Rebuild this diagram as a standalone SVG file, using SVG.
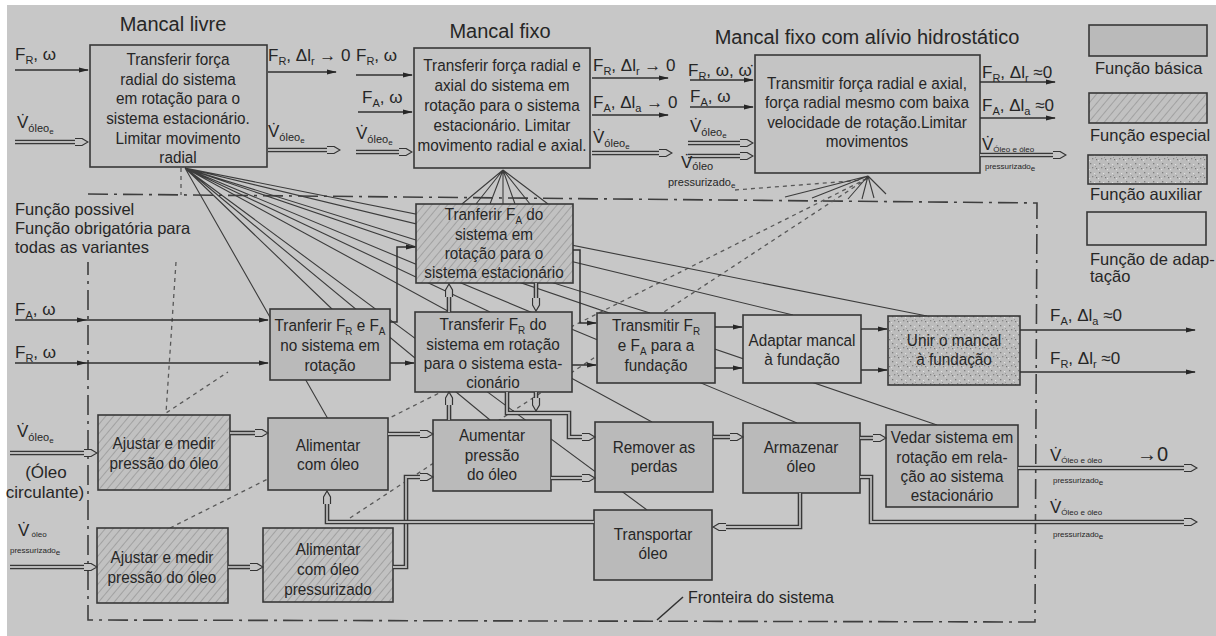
<svg xmlns="http://www.w3.org/2000/svg" width="1216" height="636" viewBox="0 0 1216 636">
<defs>
<style>
.t{font-family:'Liberation Sans Narrow','Liberation Sans',Arial,sans-serif;fill:#262626}
.bx{font-size:17px;text-anchor:middle;transform-box:fill-box;transform-origin:center;transform:scaleX(.9)}
.lb{font-size:17px}
.ttl{font-size:20px}
.lg{font-size:16.5px}
.s{font-size:11px}
.sb{font-size:11px;baseline-shift:-4px}
.ss{font-size:8px}
.box{stroke:#383838;stroke-width:1.6}
.top{fill:#c4c4c4}
.basic{fill:#bababa}
.plain{fill:#c8c8c8}
.spec{fill:url(#hatch)}
.aux{fill:url(#stip)}
.sig{fill:none;stroke:#303030;stroke-width:1.5;marker-end:url(#ah)}
.ln{fill:none;stroke:#303030;stroke-width:1.5}
.po{fill:none;stroke:#383838;stroke-width:4.6}
.pi{fill:none;stroke:#b9b9b9;stroke-width:1.8;marker-end:url(#hh)}
.fan{stroke:#3c3c3c;stroke-width:1.1;fill:none}
.dot{stroke:#585858;stroke-width:1.3;stroke-dasharray:4 4;fill:none}
.bnd{stroke:#3e3e3e;stroke-width:1.6;stroke-dasharray:20 6 3 6;fill:none}
</style>
<pattern id="hatch" width="6" height="6" patternUnits="userSpaceOnUse" patternTransform="rotate(40)">
<rect width="6" height="6" fill="#c1c1c1"/>
<line x1="0" y1="0" x2="0" y2="6" stroke="#8c8c8c" stroke-width="1.2"/>
</pattern>
<pattern id="stip" width="9" height="9" patternUnits="userSpaceOnUse">
<rect width="9" height="9" fill="#bcbcbc"/>
<rect x="1" y="1" width="1.3" height="1.3" fill="#7c7c7c"/>
<rect x="5" y="2" width="1.2" height="1.2" fill="#e0e0e0"/>
<rect x="3" y="5" width="1.3" height="1.3" fill="#888"/>
<rect x="7" y="6" width="1.2" height="1.2" fill="#777"/>
<rect x="0" y="7" width="1.2" height="1.2" fill="#dcdcdc"/>
<rect x="6" y="4" width="1" height="1" fill="#999"/>
</pattern>
<marker id="ah" viewBox="0 0 10 6" refX="9" refY="3" markerWidth="10" markerHeight="6" markerUnits="userSpaceOnUse" orient="auto">
<path d="M0,0.6 L10,3 L0,5.4 Z" fill="#262626"/>
</marker>
<marker id="hh" viewBox="0 0 14 9" refX="7" refY="4.5" markerWidth="14" markerHeight="9" markerUnits="userSpaceOnUse" orient="auto">
<path d="M0,1 L7,1 L13,4.5 L7,8 L0,8" fill="#c4c4c4" stroke="#333" stroke-width="1.2"/>
</marker>
</defs>

<rect width="1216" height="636" fill="#ffffff"/>
<rect x="7" y="5" width="1209" height="631" fill="#c7c7c7"/>

<!-- system boundary -->
<path class="bnd" d="M88,194 L1037,203 L1035,622 L88,620 L88,262"/>

<!-- possible-function links -->
<g id="possible-links">
<path class="dot" d="M181,168 V195"/>
<path class="dot" d="M176,262 L166,413 L228,372"/>
<path class="dot" d="M170,528 L868,178"/>
<path class="dot" d="M350,518 L868,178"/>
<path class="dot" d="M735,190 L864,180"/>
</g>

<!-- function links from the three variants -->
<g id="fan-links">
<path class="fan" d="M185,168 L328,419 M185,168 L333,310 M185,168 L490,420 M185,168 L490,312 M185,168 L647,510 M185,168 L652,422 M185,168 L650,313 M185,168 L797,423 M185,168 L937,425 M185,168 L793,315 M185,168 L927,316"/>
<path class="fan" d="M503,170 L462,204 M503,170 L476,204 M503,170 L490,204 M503,170 L503,204 M503,170 L515,204 M503,170 L530,204 M503,170 L548,204"/>
<path class="fan" d="M868,176 L785,197 M868,176 L812,198 M868,176 L848,199 M868,176 L862,199 M868,176 L874,198 M868,176 L886,194"/>
</g>

<!-- variant titles -->
<text class="t ttl" x="173" y="31" text-anchor="middle">Mancal livre</text>
<text class="t ttl" x="500" y="38" text-anchor="middle">Mancal fixo</text>
<text class="t ttl" x="867" y="44" text-anchor="middle">Mancal fixo com alívio hidrostático</text>

<!-- top variant nodes -->
<g id="n-livre">
<rect class="box top" x="90" y="45" width="177" height="122"/>
<text class="t bx"><tspan x="178" y="65">Transferir força</tspan><tspan x="178" y="85">radial do sistema</tspan><tspan x="178" y="104">em rotação para o</tspan><tspan x="178" y="124">sistema estacionário.</tspan><tspan x="178" y="144">Limitar movimento</tspan><tspan x="178" y="163">radial</tspan></text>
</g>
<g id="n-fixo">
<rect class="box top" x="414" y="48" width="176" height="120"/>
<text class="t bx"><tspan x="502" y="71">Transferir força radial e</tspan><tspan x="502" y="91">axial do sistema em</tspan><tspan x="502" y="111">rotação para o sistema</tspan><tspan x="502" y="131">estacionário. Limitar</tspan><tspan x="502" y="151">movimento radial e axial.</tspan></text>
</g>
<g id="n-hidro">
<rect class="box top" x="755" y="55" width="225" height="118"/>
<text class="t bx"><tspan x="867" y="89">Transmitir força radial e axial,</tspan><tspan x="867" y="108">força radial mesmo com baixa</tspan><tspan x="867" y="128">velocidade de rotação.Limitar</tspan><tspan x="867" y="147">movimentos</tspan></text>
</g>

<!-- legend -->
<g id="legend">
<rect class="box basic" x="1089" y="25" width="118" height="31"/>
<text class="t lg" x="1095" y="74">Função básica</text>
<rect class="box spec" x="1089" y="93" width="118" height="30"/>
<text class="t lg" x="1090" y="141">Função especial</text>
<rect class="box aux" x="1088" y="155" width="119" height="29"/>
<text class="t lg" x="1090" y="200">Função auxiliar</text>
<rect class="box plain" x="1087" y="212" width="119" height="33"/>
<text class="t lg" x="1090" y="265">Função de adap-</text>
<text class="t lg" x="1090" y="282">tação</text>
</g>

<text class="t lg"><tspan x="15" y="215">Função possivel</tspan><tspan x="15" y="234">Função obrigatória para</tspan><tspan x="15" y="253">todas as variantes</tspan></text>

<!-- sub-function nodes -->
<g id="n-fa">
<rect class="box spec" x="416" y="204" width="157" height="79"/>
<text class="t bx"><tspan x="494" y="220">Tranferir F<tspan class="sb">A</tspan> do</tspan><tspan x="494" y="240">sistema em</tspan><tspan x="494" y="259">rotação para o</tspan><tspan x="494" y="278">sistema estacionário</tspan></text>
</g>
<g id="n-frfa">
<rect class="box basic" x="270" y="309" width="120" height="71"/>
<text class="t bx"><tspan x="330" y="331">Tranferir F<tspan class="sb">R</tspan> e F<tspan class="sb">A</tspan></tspan><tspan x="330" y="351">no sistema em</tspan><tspan x="330" y="371">rotação</tspan></text>
</g>
<g id="n-fr">
<rect class="box basic" x="415" y="312" width="157" height="80"/>
<text class="t bx"><tspan x="493" y="330">Transferir F<tspan class="sb">R</tspan> do</tspan><tspan x="493" y="350">sistema em rotação</tspan><tspan x="493" y="369">para o sistema esta-</tspan><tspan x="493" y="388">cionário</tspan></text>
</g>
<g id="n-transmitir">
<rect class="box basic" x="597" y="313" width="118" height="70"/>
<text class="t bx"><tspan x="656" y="331">Transmitir F<tspan class="sb">R</tspan></tspan><tspan x="656" y="351">e F<tspan class="sb">A</tspan> para a</tspan><tspan x="656" y="371">fundação</tspan></text>
</g>
<g id="n-adaptar">
<rect class="box plain" x="743" y="315" width="118" height="68"/>
<text class="t bx"><tspan x="802" y="346">Adaptar mancal</tspan><tspan x="802" y="365">à fundação</tspan></text>
</g>
<g id="n-unir">
<rect class="box aux" x="888" y="316" width="132" height="69"/>
<text class="t bx"><tspan x="954" y="346">Unir o mancal</tspan><tspan x="954" y="365">à fundação</tspan></text>
</g>
<g id="n-ajustar1">
<rect class="box spec" x="98" y="415" width="132" height="75"/>
<text class="t bx"><tspan x="164" y="449">Ajustar e medir</tspan><tspan x="164" y="469">pressão do óleo</tspan></text>
</g>
<g id="n-ajustar2">
<rect class="box spec" x="97" y="528" width="131" height="75"/>
<text class="t bx"><tspan x="162" y="563">Ajustar e medir</tspan><tspan x="162" y="583">pressão do óleo</tspan></text>
</g>
<g id="n-alimentar">
<rect class="box basic" x="268" y="418" width="120" height="72"/>
<text class="t bx"><tspan x="328" y="451">Alimentar</tspan><tspan x="328" y="470">com óleo</tspan></text>
</g>
<g id="n-alimentar-p">
<rect class="box spec" x="263" y="528" width="130" height="74"/>
<text class="t bx"><tspan x="328" y="555">Alimentar</tspan><tspan x="328" y="575">com óleo</tspan><tspan x="328" y="595">pressurizado</tspan></text>
</g>
<g id="n-aumentar">
<rect class="box basic" x="433" y="420" width="118" height="71"/>
<text class="t bx"><tspan x="492" y="441">Aumentar</tspan><tspan x="492" y="461">pressão</tspan><tspan x="492" y="480">do óleo</tspan></text>
</g>
<g id="n-remover">
<rect class="box basic" x="595" y="422" width="118" height="70"/>
<text class="t bx"><tspan x="654" y="453">Remover as</tspan><tspan x="654" y="472">perdas</tspan></text>
</g>
<g id="n-armazenar">
<rect class="box basic" x="743" y="423" width="117" height="70"/>
<text class="t bx"><tspan x="801" y="453">Armazenar</tspan><tspan x="801" y="472">óleo</tspan></text>
</g>
<g id="n-transportar">
<rect class="box basic" x="594" y="510" width="118" height="70"/>
<text class="t bx"><tspan x="653" y="540">Transportar</tspan><tspan x="653" y="559">óleo</tspan></text>
</g>
<g id="n-vedar">
<rect class="box basic" x="886" y="425" width="132" height="82"/>
<text class="t bx"><tspan x="952" y="443">Vedar sistema em</tspan><tspan x="952" y="463">rotação em rela-</tspan><tspan x="952" y="482">ção ao sistema</tspan><tspan x="952" y="501">estacionário</tspan></text>
</g>

<!-- connectors -->
<g id="connectors">
<path class="sig" d="M15,70 H88"/>
<path class="sig" d="M268,72 H336"/>
<path class="sig" d="M356,75 H412"/>
<path class="sig" d="M358,112 H412"/>
<path class="sig" d="M592,78 H668"/>
<path class="sig" d="M592,115 H668"/>
<path class="sig" d="M690,80 H753"/>
<path class="sig" d="M690,107 H753"/>
<path class="sig" d="M980,82 H1055"/>
<path class="sig" d="M980,118 H1055"/>
<path class="sig" d="M15,320 H86"/><path class="sig" d="M86,320 H268"/>
<path class="sig" d="M15,363 H86"/><path class="sig" d="M86,363 H268"/>
<path class="sig" d="M390,363 H414"/>
<path class="sig" d="M390,322 H397 V247 H415"/>
<path class="sig" d="M573,250 H580 V323 H596"/>
<path class="sig" d="M572,365 H596"/>
<path class="sig" d="M715,327 H742"/>
<path class="sig" d="M715,368 H742"/>
<path class="sig" d="M861,329 H887"/>
<path class="sig" d="M861,370 H887"/>
<path class="sig" d="M1020,330 H1195"/>
<path class="sig" d="M1020,372 H1195"/>
<path class="ln" d="M683,597 L657,620"/>

<path class="po" d="M15,142 H82"/><path class="pi" d="M15,142 H82"/>
<path class="po" d="M268,150 H334"/><path class="pi" d="M268,150 H334"/>
<path class="po" d="M356,152 H406"/><path class="pi" d="M356,152 H406"/>
<path class="po" d="M592,153 H666"/><path class="pi" d="M592,153 H666"/>
<path class="po" d="M688,143 H747"/><path class="pi" d="M688,143 H747"/>
<path class="po" d="M688,156 H747"/><path class="pi" d="M688,156 H747"/>
<path class="po" d="M980,155 H1060"/><path class="pi" d="M980,155 H1060"/>
<path class="po" d="M449,312 V290"/><path class="pi" d="M449,312 V290"/>
<path class="po" d="M536,283 V305"/><path class="pi" d="M536,283 V305"/>
<path class="po" d="M10,453 H91"/><path class="pi" d="M10,453 H91"/>
<path class="po" d="M10,567 H91"/><path class="pi" d="M10,567 H91"/>
<path class="po" d="M230,433 H262"/><path class="pi" d="M230,433 H262"/>
<path class="po" d="M228,567 H257"/><path class="pi" d="M228,567 H257"/>
<path class="po" d="M388,434 H427"/><path class="pi" d="M388,434 H427"/>
<path class="po" d="M393,567 H406 V477 H427"/><path class="pi" d="M393,567 H406 V477 H427"/>
<path class="po" d="M594,522 H327 V497"/><path class="pi" d="M594,522 H327 V497"/>
<path class="po" d="M449,420 V398"/><path class="pi" d="M449,420 V398"/>
<path class="po" d="M507,392 V413 H569 V437 H589"/><path class="pi" d="M507,392 V413 H569 V437 H589"/>
<path class="po" d="M536,392 V405"/><path class="pi" d="M536,392 V405"/>
<path class="po" d="M551,478 H589"/><path class="pi" d="M551,478 H589"/>
<path class="po" d="M713,437 H737"/><path class="pi" d="M713,437 H737"/>
<path class="po" d="M800,493 V527 H719"/><path class="pi" d="M800,493 V527 H719"/>
<path class="po" d="M860,438 H880"/><path class="pi" d="M860,438 H880"/>
<path class="po" d="M860,477 H871 V522 H1191"/><path class="pi" d="M860,477 H871 V522 H1191"/>
<path class="po" d="M1018,468 H1191"/><path class="pi" d="M1018,468 H1191"/>
</g>

<!-- flow labels -->
<g id="labels">
<text class="t lb" x="15" y="60">F<tspan class="s" dy="4">R</tspan><tspan dy="-4">, ω</tspan></text>
<text class="t lb" x="17" y="128">V&#x307;<tspan class="s" dy="4">óleo</tspan><tspan class="ss" dy="2">e</tspan></text>
<text class="t lb" x="268" y="61">F<tspan class="s" dy="4">R</tspan><tspan dy="-4">, Δl</tspan><tspan class="s" dy="4">r</tspan><tspan dy="-4"> → 0</tspan></text>
<text class="t lb" x="268" y="137">V&#x307;<tspan class="s" dy="4">óleo</tspan><tspan class="ss" dy="2">e</tspan></text>
<text class="t lb" x="356" y="61">F<tspan class="s" dy="4">R</tspan><tspan dy="-4">, ω</tspan></text>
<text class="t lb" x="362" y="103">F<tspan class="s" dy="4">A</tspan><tspan dy="-4">, ω</tspan></text>
<text class="t lb" x="356" y="139">V&#x307;<tspan class="s" dy="4">óleo</tspan><tspan class="ss" dy="2">e</tspan></text>
<text class="t lb" x="593" y="71">F<tspan class="s" dy="4">R</tspan><tspan dy="-4">, Δl</tspan><tspan class="s" dy="4">r</tspan><tspan dy="-4"> → 0</tspan></text>
<text class="t lb" x="593" y="108">F<tspan class="s" dy="4">A</tspan><tspan dy="-4">, Δl</tspan><tspan class="s" dy="4">a</tspan><tspan dy="-4"> → 0</tspan></text>
<text class="t lb" x="593" y="143">V&#x307;<tspan class="s" dy="4">óleo</tspan><tspan class="ss" dy="2">e</tspan></text>
<text class="t lb" x="688" y="76">F<tspan class="s" dy="4">R</tspan><tspan dy="-4">, ω, ω&#x307;</tspan></text>
<text class="t lb" x="690" y="102">F<tspan class="s" dy="4">A</tspan><tspan dy="-4">, ω</tspan></text>
<text class="t lb" x="690" y="132">V&#x307;<tspan class="s" dy="4">óleo</tspan><tspan class="ss" dy="2">e</tspan></text>
<text class="t lb" x="681" y="168">V&#x307;<tspan class="s" dy="2">óleo</tspan></text>
<text class="t s" x="668" y="186">pressurizado<tspan class="ss" dy="2">e</tspan></text>
<text class="t lb" x="982" y="78">F<tspan class="s" dy="4">R</tspan><tspan dy="-4">, Δl</tspan><tspan class="s" dy="4">r</tspan><tspan dy="-4"> ≈0</tspan></text>
<text class="t lb" x="982" y="111">F<tspan class="s" dy="4">A</tspan><tspan dy="-4">, Δl</tspan><tspan class="s" dy="4">a</tspan><tspan dy="-4"> ≈0</tspan></text>
<text class="t lb" x="982" y="150">V&#x307;<tspan class="ss" dy="2">Óleo e óleo</tspan></text>
<text class="t ss" x="985" y="169">pressurizado<tspan dy="2">e</tspan></text>

<text class="t lb" x="15" y="315">F<tspan class="s" dy="4">A</tspan><tspan dy="-4">, ω</tspan></text>
<text class="t lb" x="15" y="358">F<tspan class="s" dy="4">R</tspan><tspan dy="-4">, ω</tspan></text>
<text class="t lb" x="1050" y="321">F<tspan class="s" dy="4">A</tspan><tspan dy="-4">, Δl</tspan><tspan class="s" dy="4">a</tspan><tspan dy="-4"> ≈0</tspan></text>
<text class="t lb" x="1050" y="364">F<tspan class="s" dy="4">R</tspan><tspan dy="-4">, Δl</tspan><tspan class="s" dy="4">r</tspan><tspan dy="-4"> ≈0</tspan></text>

<text class="t lb" x="17" y="437">V&#x307;<tspan class="s" dy="4">óleo</tspan><tspan class="ss" dy="2">e</tspan></text>
<text class="t lb" x="46" y="478" text-anchor="middle">(Óleo</text>
<text class="t lb" x="45" y="498" text-anchor="middle">circulante)</text>
<text class="t lb" x="18" y="536">V&#x307;<tspan class="ss" dy="1"> óleo</tspan></text>
<text class="t ss" x="10" y="553">pressurizado<tspan dy="2">e</tspan></text>

<text class="t lb" x="1050" y="461">V&#x307;<tspan class="ss" dy="2">Óleo e óleo</tspan></text>
<text class="t" x="1137" y="461" font-size="20">→0</text>
<text class="t ss" x="1053" y="483">pressurizado<tspan dy="2">e</tspan></text>
<text class="t lb" x="1050" y="513">V&#x307;<tspan class="ss" dy="2">Óleo e óleo</tspan></text>
<text class="t ss" x="1053" y="537">pressurizado<tspan dy="2">e</tspan></text>

<text class="t" x="688" y="603" font-size="16">Fronteira do sistema</text>
</g>
</svg>
